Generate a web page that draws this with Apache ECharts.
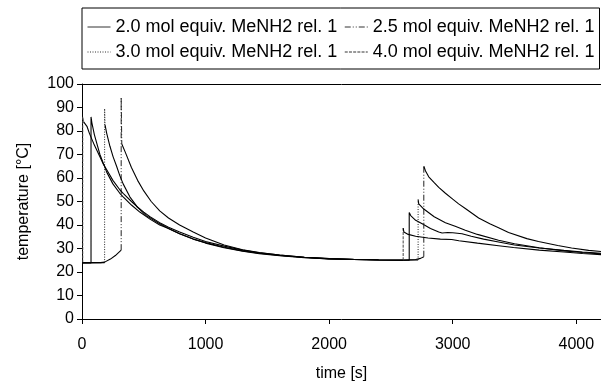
<!DOCTYPE html>
<html><head><meta charset="utf-8">
<script src="https://cdn.jsdelivr.net/npm/echarts@6/dist/echarts.min.js"></script>
<style>html,body{margin:0;padding:0;background:#fff}#c{width:601px;height:387px}</style>
</head><body><div id="c"></div>
<script>
const seriesNames = ['2.0 mol equiv. MeNH2 rel. 1','2.5 mol equiv. MeNH2 rel. 1','3.0 mol equiv. MeNH2 rel. 1','4.0 mol equiv. MeNH2 rel. 1'];
const xTicks = [0, 1000, 2000, 3000, 4000];
const yTicks = [0,10,20,30,40,50,60,70,80,90,100];

// 2.0 mol equiv (solid)
const t20 = [0,73,73,80,100,145,200,250,306,333,400,468,550,629,700,790,900,1000,1150,1300,1435,1600,1800,2000,2200,2400,2600,2648,2648,2660,2700,2753,2820,2887,2914,2930,2960,3000,3075,3150,3250,3371,3500,3700,3900,4050,4200];
const y20 = [23.8,23.8,86,83.5,78.5,70,62.5,57.5,53.5,52,48.5,45.5,42.5,40,38.5,36.3,34,32.3,30.3,28.8,27.8,26.9,26.1,25.6,25.3,25.1,25,25,45.3,44,42,40.5,38.5,37,36.6,37.3,36.8,36.7,36.3,35.2,34,32.8,31.5,30.2,29.2,28.5,28];

// 2.5 mol equiv (dash-dot-dot)
const t25_pre = [0,150,183,230,270,317];
const y25_pre = [24,24,24.2,25.5,27,29.3];
const t25_jump1 = [317,317,322];
const y25_jump1 = [29.3,94.4,74.5];
const t25_mid = [322,350,400,450,500,560,629,700,790,900,1000,1150,1300,1435,1600,1800,2000,2200,2400,2600,2700,2740,2766];
const y25_mid = [74.5,71,64.5,59,54.5,50,46,43,40,37,34.5,31.5,29.5,28.3,27.2,26.3,25.7,25.4,25.2,25.1,25.3,25.8,26.5];
const t25_jump2 = [2766,2766];
const y25_jump2 = [26.5,65];
const t25_post = [2766,2780,2806,2850,2887,2941,3000,3048,3102,3210,3300,3371,3452,3600,3694,3850,3962,4100,4200];
const y25_post = [65,63,60.5,58,56,53.5,51,49,47,43,40.5,38.8,36.8,34.2,33,31.3,30.2,29.2,28.7];

// 3.0 mol equiv (dotted)
const t30_pre = [0,183];
const y30_pre = [23.8,24];
const t30_jump1 = [183,183,186];
const y30_jump1 = [24,89.5,82.7];
const t30_mid = [186,200,226,252,280,306,333,387,450,520,629,700,790,900,1000,1150,1300,1435,1600,1800,2000,2200,2400,2600,2720];
const y30_mid = [82.7,79,73.5,69,65,61,57.5,52,47.5,44,40.5,38.5,36.3,34,32.5,30.5,29,28,27,26.2,25.6,25.3,25.1,25,25.1];
const t30_jump2 = [2720,2720];
const y30_jump2 = [25.1,50.8];
const t30_post = [2720,2725,2766,2850,2941,3020,3102,3200,3371,3500,3700,3900,4050,4200];
const y30_post = [50.8,49,46.8,43.5,41,39.5,37.8,36,33.5,32,30.3,29,28.3,27.7];

// 4.0 mol equiv (dashed)
const t40_pre = [0,6];
const y40_pre = [24,24];
const t40_jump1 = [6,6,12];
const y40_jump1 = [24,86,84];
const t40_mid = [12,25,40,60,100,145,172,200,250,306,333,400,441,500,550,629,700,790,900,1000,1150,1300,1435,1600,1800,2000,2200,2400,2599];
const y40_mid = [84,84.5,82,79,74,69,66,63.5,59,55,53.5,50,48,45.5,43.5,41,39,37,34.8,33,31,29.3,28.2,27.2,26.3,25.7,25.3,25.1,25];
const t40_jump2 = [2599,2599];
const y40_jump2 = [25,38.7];
const t40_post = [2599,2605,2640,2700,2800,2900,2992,3050,3200,3371,3492,3700,3900,4050,4200];
const y40_post = [38.7,37,36,35.2,34.5,34,33.8,33.3,32.3,31.2,30.4,29.3,28.5,27.9,27.4];

function pts(t, y) { return t.map((v, i) => [v, y[i]]); }
function joinGap() { const out = []; for (let k = 0; k < arguments.length; k++) { if (k) out.push(['-', '-']); out.push(...arguments[k]); } return out; }

const dashDotDot = [6,2,1,2,1,2];
const dotted = [1,1.5];
const dashed = [3,1.2];

function line(name, data, type, width, color) {
  return { name: name, type: 'line', data: data, symbol: 'none', showSymbol: false, connectNulls: false, animation: false,
    silent: true, lineStyle: { color: color || '#000', width: width || 1.1, type: type || 'solid' }, itemStyle: { color: color || '#000' }, z: 2 };
}

const series = [
  line(seriesNames[0], pts(t20, y20), 'solid', 1.1),
  line(seriesNames[1], joinGap(pts(t25_jump1, y25_jump1), pts(t25_jump2, y25_jump2)), dashDotDot, 1, '#222'),
  line(seriesNames[1], joinGap(pts(t25_pre, y25_pre), pts(t25_mid, y25_mid), pts(t25_post, y25_post)), 'solid', 1.1),
  line(seriesNames[2], joinGap(pts(t30_jump1, y30_jump1), pts(t30_jump2, y30_jump2)), dotted, 1, '#222'),
  line(seriesNames[2], joinGap(pts(t30_pre, y30_pre), pts(t30_mid, y30_mid), pts(t30_post, y30_post)), 'solid', 1.1),
  line(seriesNames[3], joinGap(pts(t40_jump1, y40_jump1), pts(t40_jump2, y40_jump2)), dashed, 1, '#444'),
  line(seriesNames[3], joinGap(pts(t40_pre, y40_pre), pts(t40_mid, y40_mid), pts(t40_post, y40_post)), 'solid', 1.1)
];

const font = 'Liberation Sans, Arial, sans-serif';
const chart = echarts.init(document.getElementById('c'), null, { renderer: 'canvas' });
chart.setOption({
  backgroundColor: '#fff',
  animation: false,
  textStyle: { fontFamily: font, color: '#000' },
  legend: {
    data: seriesNames, left: 82, top: 8, width: 520, orient: 'horizontal',
    itemWidth: 23, itemHeight: 13, itemGap: 7, padding: [10, 5, 8, 5],
    borderColor: '#000', borderWidth: 1, backgroundColor: '#fff',
    selectedMode: false,
    itemStyle: { color: 'rgba(0,0,0,0)', borderColor: 'rgba(0,0,0,0)', borderWidth: 0 },
    lineStyle: { width: 1, color: '#333' },
    textStyle: { fontFamily: font, fontSize: 18, color: '#000', lineHeight: 13 }
  },
  grid: { left: 82, right: 0, top: 84, bottom: 66, containLabel: false },
  xAxis: [{
    type: 'value', min: 0, max: 4200, interval: 1000, position: 'bottom',
    name: 'time [s]', nameLocation: 'middle', nameGap: 47,
    nameTextStyle: { fontFamily: font, fontSize: 16, color: '#000' },
    axisLine: { show: true, onZero: false, lineStyle: { color: '#000', width: 1 } },
    axisTick: { show: true, inside: false, length: 5, lineStyle: { color: '#000' } },
    axisLabel: { fontFamily: font, fontSize: 16, color: '#000', margin: 18, showMaxLabel: false,
      formatter: v => xTicks.indexOf(v) >= 0 ? String(v) : '' },
    splitLine: { show: false }
  }, {
    type: 'value', min: 0, max: 4200, position: 'top',
    axisLine: { show: true, onZero: false, lineStyle: { color: '#000', width: 1 } },
    axisTick: { show: false }, axisLabel: { show: false }, splitLine: { show: false }
  }],
  yAxis: {
    type: 'value', min: 0, max: 100, interval: 10,
    name: 'temperature [°C]', nameLocation: 'middle', nameGap: 50, nameRotate: 90,
    nameTextStyle: { fontFamily: font, fontSize: 16, color: '#000' },
    axisLine: { show: true, onZero: false, lineStyle: { color: '#000', width: 1 } },
    axisTick: { show: true, inside: false, length: 5, lineStyle: { color: '#000' } },
    axisLabel: { fontFamily: font, fontSize: 16, color: '#000', margin: 8,
      formatter: v => yTicks.indexOf(v) >= 0 ? String(v) : '' },
    splitLine: { show: false }
  },
  series: series
});
</script></body></html>
